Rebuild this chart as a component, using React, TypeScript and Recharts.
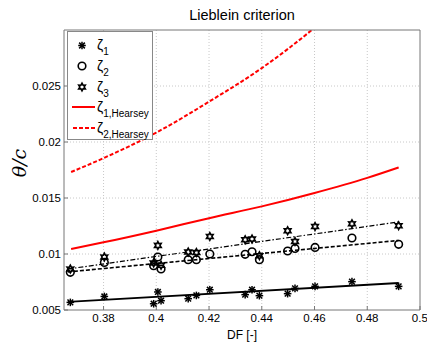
import React from 'react';
import { ComposedChart, Line, Scatter, XAxis, YAxis, CartesianGrid, Legend } from 'recharts';

const xDF = [0.3674, 0.3803, 0.399, 0.4006, 0.4018, 0.4121, 0.4152, 0.4203, 0.4337, 0.4363, 0.4391, 0.4498, 0.4526, 0.4602, 0.4742, 0.4919];
const zeta1 = [0.00568, 0.00621, 0.00556, 0.00661, 0.00583, 0.00601, 0.0063, 0.00681, 0.00637, 0.00681, 0.00628, 0.00646, 0.00693, 0.00711, 0.00753, 0.00711];
const zeta2 = [0.00836, 0.00925, 0.00896, 0.00973, 0.00866, 0.00949, 0.00949, 0.0100, 0.00997, 0.0102, 0.00949, 0.01027, 0.0105, 0.01059, 0.01143, 0.01086];
const zeta3 = [0.00866, 0.00973, 0.0092, 0.01077, 0.0090, 0.01018, 0.01014, 0.01157, 0.01128, 0.01134, 0.00985, 0.01208, 0.01112, 0.01246, 0.0127, 0.01253];

const fitX = [0.3665, 0.4919];
const fit1 = [0.00572, 0.00741];
const fit2 = [0.0084, 0.01121];
const fit3 = [0.00866, 0.01286];

const hX = [0.3677, 0.38, 0.40, 0.42, 0.44, 0.46, 0.48, 0.4919];
const hearsey1 = [0.01045, 0.01104, 0.01208, 0.0132, 0.01425, 0.01545, 0.0168, 0.01773];
const hearsey2 = [0.01732, 0.01856, 0.02084, 0.0236, 0.0266, 0.0302, 0.0344, 0.0372];

const xTicks = [0.38, 0.4, 0.42, 0.44, 0.46, 0.48, 0.5];
const yTicks = [0.005, 0.01, 0.015, 0.02, 0.025];

const pts = (xs: number[], ys: number[]) => xs.map((x, i) => ({ x, y: ys[i] }));

const FONT = '"Liberation Sans", Arial, sans-serif';

const Asterisk = ({ cx, cy }: any) => {
  const r = 3.8;
  const d = r * 0.75;
  return (
    <g stroke="#000" strokeWidth={1.5}>
      <line x1={cx} y1={cy - r} x2={cx} y2={cy + r} />
      <line x1={cx - r} y1={cy} x2={cx + r} y2={cy} />
      <line x1={cx - d} y1={cy - d} x2={cx + d} y2={cy + d} />
      <line x1={cx - d} y1={cy + d} x2={cx + d} y2={cy - d} />
    </g>
  );
};

const Ring = ({ cx, cy }: any) => (
  <circle cx={cx} cy={cy} r={3.8} fill="none" stroke="#000" strokeWidth={1.6} />
);

const Hexagram = ({ cx, cy }: any) => {
  const R = 3.8;
  const r = 2.1;
  const p: string[] = [];
  for (let i = 0; i < 12; i++) {
    const a = (Math.PI / 6) * i - Math.PI / 2;
    const rad = i % 2 === 0 ? R : r;
    p.push(`${cx + rad * Math.cos(a)},${cy + rad * Math.sin(a)}`);
  }
  return <polygon points={p.join(' ')} fill="none" stroke="#000" strokeWidth={1.6} />;
};

const Zeta = ({ x, y, sub }: any) => (
  <text x={x} y={y} fontFamily={FONT} fontSize={14} fill="#000">
    ζ<tspan fontSize={10} dy={5}>{sub}</tspan>
  </text>
);

const LegendBox = () => (
  <svg width={86} height={109} style={{ display: 'block' }}>
    <rect x={0.5} y={0.5} width={85} height={108} fill="#fff" stroke="#888" strokeWidth={1} />
    <Asterisk cx={15} cy={14.5} />
    <Zeta x={30} y={19} sub="1" />
    <Ring cx={15} cy={35} />
    <Zeta x={30} y={40} sub="2" />
    <Hexagram cx={15} cy={56} />
    <Zeta x={30} y={61} sub="3" />
    <line x1={5} y1={76} x2={28} y2={76} stroke="#f00" strokeWidth={2} />
    <Zeta x={30} y={81} sub="1,Hearsey" />
    <line x1={6} y1={97} x2={28} y2={97} stroke="#f00" strokeWidth={2} strokeDasharray="4 2" />
    <Zeta x={30} y={102} sub="2,Hearsey" />
  </svg>
);

const YLabel = (props: any) => {
  const cx = 21;
  const cy = 163;
  return (
    <text
      x={cx}
      y={cy}
      transform={`rotate(-90, ${cx}, ${cy})`}
      textAnchor="middle"
      dominantBaseline="middle"
      fontFamily='"DejaVu Serif", "Liberation Serif", serif'
      fontStyle="italic"
      fontSize={19}
      fill="#000"
    >
      θ/c
    </text>
  );
};

export default function App() {
  const tickStyle = { fontFamily: FONT, fontSize: 11.5, fill: '#000' };
  return (
    <div style={{ position: 'absolute', left: 0, top: 0, width: 427, height: 345, background: '#fff' }}>
      <div
        style={{
          position: 'absolute',
          left: 64,
          width: 356,
          top: 5,
          textAlign: 'center',
          fontFamily: FONT,
          fontSize: 14.5,
          color: '#000',
          lineHeight: '20px',
        }}
      >
        Lieblein criterion
      </div>
      <ComposedChart width={427} height={345} margin={{ top: 29, right: 6, bottom: 0, left: 0 }}>
        <CartesianGrid stroke="#c8c8c8" strokeDasharray="1 2" horizontalValues={[0.01, 0.015, 0.02, 0.025]} verticalValues={[0.38, 0.4, 0.42, 0.44, 0.46, 0.48]} />
        <XAxis
          dataKey="x"
          type="number"
          domain={[0.365, 0.5]}
          ticks={xTicks}
          allowDataOverflow
          height={35}
          stroke="#777"
          tickSize={-4}
          tickMargin={8}
          tick={tickStyle}
          tickFormatter={(v: number) => String(+v.toFixed(3))}
          label={{ value: 'DF [-]', position: 'insideBottom', offset: 6, style: { fontFamily: FONT, fontSize: 12, fill: '#000' } }}
        />
        <XAxis xAxisId="top" orientation="top" type="number" domain={[0.365, 0.5]} ticks={xTicks} height={1} stroke="#777" tickSize={-4} tick={false} />
        <YAxis
          type="number"
          domain={[0.005, 0.03]}
          ticks={yTicks}
          allowDataOverflow
          width={64}
          stroke="#777"
          tickSize={-4}
          tickMargin={7}
          tick={tickStyle}
          tickFormatter={(v: number) => String(+v.toFixed(4))}
          label={<YLabel />}
        />
        <YAxis yAxisId="right" orientation="right" type="number" domain={[0.005, 0.03]} ticks={yTicks} width={1} stroke="#777" tickSize={-4} tick={false} />
        <Legend content={() => <LegendBox />} layout="horizontal" verticalAlign="middle" wrapperStyle={{ left: 67, top: 31, width: 86, height: 109 }} />
        <Line data={pts(hX, hearsey2)} dataKey="y" type="monotone" stroke="#ff0000" strokeWidth={2} strokeDasharray="4 2" dot={false} isAnimationActive={false} legendType="none" />
        <Line data={pts(hX, hearsey1)} dataKey="y" type="monotone" stroke="#ff0000" strokeWidth={2} dot={false} isAnimationActive={false} legendType="none" />
        <Line data={pts(fitX, fit3)} dataKey="y" stroke="#000" strokeWidth={1.2} strokeDasharray="5 2 1.5 2" dot={false} isAnimationActive={false} legendType="none" />
        <Line data={pts(fitX, fit2)} dataKey="y" stroke="#000" strokeWidth={1.6} strokeDasharray="4 2" dot={false} isAnimationActive={false} legendType="none" />
        <Line data={pts(fitX, fit1)} dataKey="y" stroke="#000" strokeWidth={1.8} dot={false} isAnimationActive={false} legendType="none" />
        <Scatter data={pts(xDF, zeta1)} dataKey="y" shape={<Asterisk />} isAnimationActive={false} legendType="none" />
        <Scatter data={pts(xDF, zeta2)} dataKey="y" shape={<Ring />} isAnimationActive={false} legendType="none" />
        <Scatter data={pts(xDF, zeta3)} dataKey="y" shape={<Hexagram />} isAnimationActive={false} legendType="none" />
      </ComposedChart>
    </div>
  );
}
